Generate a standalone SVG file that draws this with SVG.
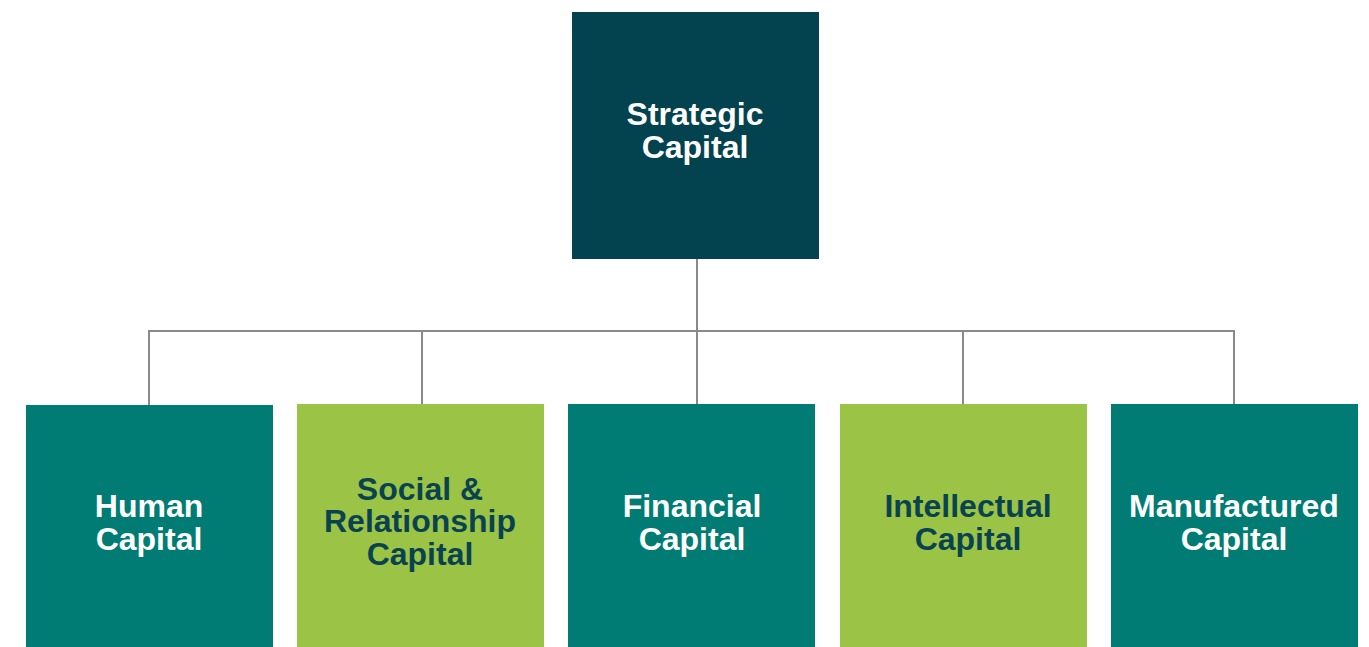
<svg xmlns="http://www.w3.org/2000/svg" width="1369" height="647" viewBox="0 0 1369 647">
  <style>
    .box-dark { fill: #02434f; }
    .box-teal { fill: #007c74; }
    .box-green { fill: #9bc447; }
    .label { font-family: "Liberation Sans", Arial, sans-serif; font-weight: bold; font-size: 32px; text-anchor: middle; }
    .light { fill: #ffffff; }
    .darktext { fill: #0a4350; }
    .link { stroke: #8a8a8a; stroke-width: 2; fill: none; }
  </style>
  <rect width="1369" height="647" fill="#ffffff"/>

  <!-- connectors -->
  <g id="connectors">
    <line class="link" x1="697" y1="258" x2="697" y2="404"/>
    <polyline class="link" points="149,405 149,331 1234,331 1234,404"/>
    <line class="link" x1="422" y1="331" x2="422" y2="404"/>
    <line class="link" x1="963" y1="331" x2="963" y2="404"/>
  </g>

  <g id="strategic-capital">
    <rect class="box-dark" x="572" y="12" width="247" height="247"/>
    <text class="label light" x="695" y="125">Strategic</text>
    <text class="label light" x="695" y="158">Capital</text>
  </g>

  <g id="human-capital">
    <rect class="box-teal" x="26" y="405" width="247" height="242"/>
    <text class="label light" x="149" y="517">Human</text>
    <text class="label light" x="149" y="550">Capital</text>
  </g>

  <g id="social-relationship-capital">
    <rect class="box-green" x="297" y="404" width="247" height="243"/>
    <text class="label darktext" x="420" y="500">Social &amp;</text>
    <text class="label darktext" x="420" y="532">Relationship</text>
    <text class="label darktext" x="420" y="565">Capital</text>
  </g>

  <g id="financial-capital">
    <rect class="box-teal" x="568" y="404" width="247" height="243"/>
    <text class="label light" x="692" y="517">Financial</text>
    <text class="label light" x="692" y="550">Capital</text>
  </g>

  <g id="intellectual-capital">
    <rect class="box-green" x="840" y="404" width="247" height="243"/>
    <text class="label darktext" x="968" y="517">Intellectual</text>
    <text class="label darktext" x="968" y="550">Capital</text>
  </g>

  <g id="manufactured-capital">
    <rect class="box-teal" x="1111" y="404" width="247" height="243"/>
    <text class="label light" x="1234" y="517">Manufactured</text>
    <text class="label light" x="1234" y="550">Capital</text>
  </g>
</svg>
